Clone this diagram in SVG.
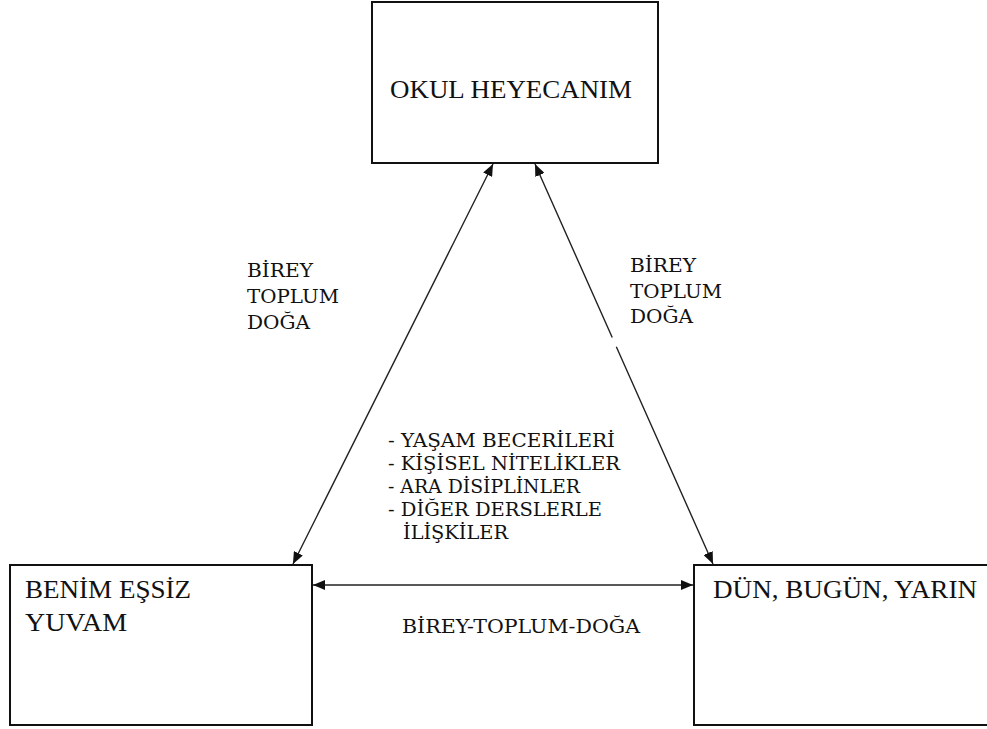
<svg xmlns="http://www.w3.org/2000/svg" width="987" height="729" viewBox="0 0 987 729">
<style>
.box{fill:#fff;stroke:#111;stroke-width:2}
.title{font-family:"Liberation Serif","Times New Roman",serif;font-size:25px;fill:#111}
.lbl{font-family:"DejaVu Serif","Liberation Serif",serif;font-size:18.5px;fill:#111}
.con{stroke:#222;stroke-width:1.4;fill:none}
</style>
<defs>
<marker id="ah" viewBox="0 0 12 10" refX="12" refY="5" markerWidth="12" markerHeight="10" markerUnits="userSpaceOnUse" orient="auto-start-reverse">
<path d="M0,0 L12,5 L0,10 Z" fill="#111"/>
</marker>
</defs>
<rect width="987" height="729" fill="#fff"/>
<g id="connectors">
<line class="con" x1="493" y1="164" x2="293" y2="564" marker-start="url(#ah)" marker-end="url(#ah)"/>
<line class="con" x1="535" y1="164" x2="713" y2="564" stroke-dasharray="190 10 1000" marker-start="url(#ah)" marker-end="url(#ah)"/>
<line class="con" x1="313" y1="585" x2="693" y2="585" marker-start="url(#ah)" marker-end="url(#ah)"/>
</g>
<g id="okul">
<rect class="box" x="372" y="2" width="286" height="161"/>
<text class="title" x="390" y="98" textLength="242" lengthAdjust="spacingAndGlyphs">OKUL HEYECANIM</text>
</g>
<g id="benim">
<rect class="box" x="10" y="565" width="302" height="160"/>
<text class="title" x="25" y="598" textLength="166" lengthAdjust="spacingAndGlyphs">BENİM EŞSİZ</text>
<text class="title" x="25" y="631" textLength="102" lengthAdjust="spacingAndGlyphs">YUVAM</text>
</g>
<g id="dun">
<rect class="box" x="694" y="565" width="320" height="160"/>
<text class="title" x="713" y="598" textLength="264" lengthAdjust="spacingAndGlyphs">DÜN, BUGÜN, YARIN</text>
</g>
<g id="label-left">
<text class="lbl" x="247" y="277" textLength="66" lengthAdjust="spacingAndGlyphs">BİREY</text>
<text class="lbl" x="247" y="303" textLength="92" lengthAdjust="spacingAndGlyphs">TOPLUM</text>
<text class="lbl" x="247" y="329" textLength="63" lengthAdjust="spacingAndGlyphs">DOĞA</text>
</g>
<g id="label-right">
<text class="lbl" x="630" y="272" textLength="66" lengthAdjust="spacingAndGlyphs">BİREY</text>
<text class="lbl" x="630" y="298" textLength="92" lengthAdjust="spacingAndGlyphs">TOPLUM</text>
<text class="lbl" x="630" y="323" textLength="63" lengthAdjust="spacingAndGlyphs">DOĞA</text>
</g>
<g id="label-center">
<text class="lbl" x="388" y="447" textLength="227" lengthAdjust="spacingAndGlyphs">- YAŞAM BECERİLERİ</text>
<text class="lbl" x="388" y="470" textLength="232" lengthAdjust="spacingAndGlyphs">- KİŞİSEL NİTELİKLER</text>
<text class="lbl" x="388" y="493" textLength="192" lengthAdjust="spacingAndGlyphs">- ARA DİSİPLİNLER</text>
<text class="lbl" x="388" y="516" textLength="214" lengthAdjust="spacingAndGlyphs">- DİĞER DERSLERLE</text>
<text class="lbl" x="403" y="539" textLength="105" lengthAdjust="spacingAndGlyphs">İLİŞKİLER</text>
</g>
<g id="label-bottom">
<text class="lbl" x="402" y="633" textLength="238" lengthAdjust="spacingAndGlyphs">BİREY-TOPLUM-DOĞA</text>
</g>
</svg>
